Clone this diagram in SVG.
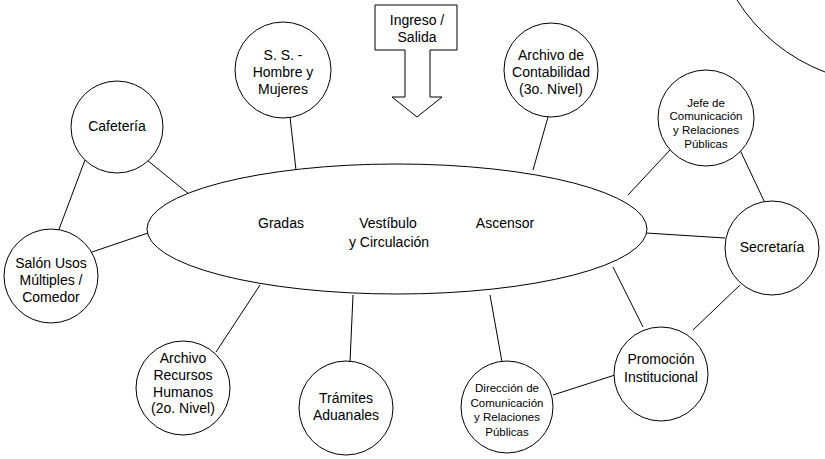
<svg xmlns="http://www.w3.org/2000/svg" width="825" height="459" viewBox="0 0 825 459">
<style>
.n{fill:#fff;stroke:#000;stroke-width:1}
.c line{stroke:#000;stroke-width:1}
text{font-family:"Liberation Sans",Arial,sans-serif;font-size:14px;fill:#000;text-anchor:middle}
.s{font-size:11.5px}
</style>
<rect width="825" height="459" fill="#fff"/>
<path d="M737,0 A179,179 0 0 0 825,72" fill="none" stroke="#000"/>
<g class="c">
<line x1="147" y1="160" x2="190" y2="195"/>
<line x1="85" y1="160" x2="58" y2="232"/>
<line x1="92" y1="252" x2="148" y2="233"/>
<line x1="290" y1="117" x2="296" y2="170"/>
<line x1="548" y1="117" x2="533" y2="170"/>
<line x1="670" y1="150" x2="628" y2="195"/>
<line x1="740" y1="150" x2="765" y2="203"/>
<line x1="646" y1="233" x2="725" y2="238"/>
<line x1="613" y1="267" x2="643" y2="327"/>
<line x1="740" y1="285" x2="693" y2="330"/>
<line x1="615" y1="375" x2="553" y2="395"/>
<line x1="490" y1="295" x2="502" y2="362"/>
<line x1="353" y1="295" x2="350" y2="362"/>
<line x1="260" y1="285" x2="216" y2="352"/>
</g>
<g id="ingreso">
<path class="n" d="M375,5 H457 V50 H430 V97 H442 L417,117 L392,97 H405 V50 H375 Z"/>
<text x="417" y="25">Ingreso /</text>
<text x="417" y="42">Salida</text>
</g>
<g id="vestibulo">
<ellipse class="n" cx="397" cy="229" rx="250" ry="65"/>
<text x="281" y="228">Gradas</text>
<text x="388" y="228">Vestíbulo</text>
<text x="389" y="247">y Circulación</text>
<text x="505" y="228">Ascensor</text>
</g>
<g id="cafeteria">
<circle class="n" cx="117" cy="127" r="46"/>
<text x="117" y="131">Cafetería</text>
</g>
<g id="salon">
<circle class="n" cx="51" cy="276" r="47"/>
<text x="51" y="268">Salón Usos</text>
<text x="51" y="285">Múltiples /</text>
<text x="51" y="302">Comedor</text>
</g>
<g id="ss">
<circle class="n" cx="283" cy="70" r="48"/>
<text x="283" y="60">S. S. -</text>
<text x="283" y="77">Hombre y</text>
<text x="283" y="94">Mujeres</text>
</g>
<g id="contabilidad">
<circle class="n" cx="551" cy="70" r="47"/>
<text x="551" y="60">Archivo de</text>
<text x="551" y="77">Contabilidad</text>
<text x="551" y="94">(3o. Nivel)</text>
</g>
<g id="jefe">
<circle class="n" cx="706" cy="118" r="48"/>
<text class="s" x="706" y="107">Jefe de</text>
<text class="s" x="706" y="120">Comunicación</text>
<text class="s" x="706" y="134">y Relaciones</text>
<text class="s" x="706" y="148">Públicas</text>
</g>
<g id="secretaria">
<circle class="n" cx="772" cy="248" r="47"/>
<text x="772" y="252">Secretaría</text>
</g>
<g id="promocion">
<circle class="n" cx="661" cy="374" r="47"/>
<text x="661" y="364">Promoción</text>
<text x="661" y="382">Institucional</text>
</g>
<g id="direccion">
<circle class="n" cx="507" cy="407" r="46"/>
<text class="s" x="507" y="392">Dirección de</text>
<text class="s" x="507" y="407">Comunicación</text>
<text class="s" x="507" y="421">y Relaciones</text>
<text class="s" x="507" y="436">Públicas</text>
</g>
<g id="tramites">
<circle class="n" cx="346" cy="408" r="47"/>
<text x="346" y="403">Trámites</text>
<text x="346" y="420">Aduanales</text>
</g>
<g id="recursos">
<circle class="n" cx="183" cy="388" r="47"/>
<text x="183" y="363">Archivo</text>
<text x="183" y="380">Recursos</text>
<text x="183" y="397">Humanos</text>
<text x="183" y="413">(2o. Nivel)</text>
</g>
</svg>
